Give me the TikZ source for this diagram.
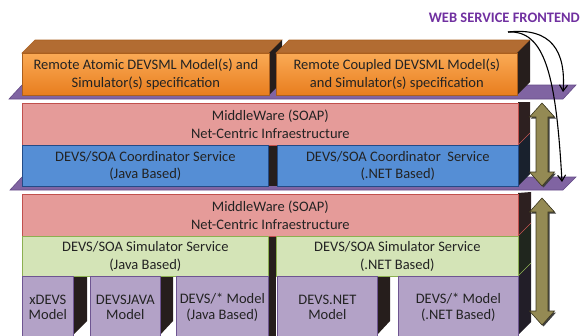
\documentclass[tikz,border=0pt]{standalone}
\usepackage{fontspec}
\setmainfont{Carlito}
\usetikzlibrary{arrows.meta,calc}
\definecolor{txt}{RGB}{35,35,35}
\definecolor{orgT}{RGB}{250,170,85}
\definecolor{orgBot}{RGB}{232,125,30}
\definecolor{orgB}{RGB}{170,95,30}
\definecolor{orgTop}{RGB}{178,108,50}
\definecolor{darkside}{RGB}{38,30,28}
\definecolor{slab}{RGB}{128,100,162}
\definecolor{slabB}{RGB}{100,75,135}
\definecolor{pinkF}{RGB}{229,155,153}
\definecolor{pinkB}{RGB}{192,80,77}
\definecolor{blueF}{RGB}{85,142,213}
\definecolor{blueB}{RGB}{35,75,135}
\definecolor{greenF}{RGB}{212,228,183}
\definecolor{greenB}{RGB}{140,175,80}
\definecolor{modF}{RGB}{179,162,199}
\definecolor{modB}{RGB}{110,85,145}
\definecolor{olive}{RGB}{148,138,84}
\definecolor{oliveB}{RGB}{60,55,30}
\definecolor{wsfc}{RGB}{112,48,160}
\definecolor{sideBrown}{RGB}{45,32,32}
\definecolor{sideNavy}{RGB}{25,33,45}
\definecolor{sideGreen}{RGB}{32,38,30}
\definecolor{sidePurp}{RGB}{34,30,40}
\newcommand\olivearrow[3]{%
  \fill[black!75] ($(#1,#2)+(1.5,1.5)$) -- ++(12.5,14) -- ++(-6.5,0) -- ($(#1+6,#3-14)+(1.5,1.5)$) -- ++(6.5,0) -- ++(-12.5,14) -- ++(-12.5,-14) -- ++(6.5,0) -- ($(#1-6,#2+14)+(1.5,1.5)$) -- ++(-6.5,0) -- cycle;
  \filldraw[fill=olive,draw=oliveB,line width=0.6pt] (#1,#2) -- ++(12.5,14) -- ++(-6.5,0) -- (#1+6,#3-14) -- ++(6.5,0) -- ++(-12.5,14) -- ++(-12.5,-14) -- ++(6.5,0) -- (#1-6,#2+14) -- ++(-6.5,0) -- cycle;}
\begin{document}
\begin{tikzpicture}[x=1pt,y=-1pt,
  lay/.style={inner sep=0pt, align=center, anchor=north west, line width=0.7pt,
    font=\fontsize{14.5}{17.5}\selectfont, text=txt},
  orangebox/.style={lay, draw=orgB, top color=orgT, bottom color=orgBot},
  pinkbox/.style={lay, draw=pinkB, fill=pinkF},
  bluebox/.style={lay, draw=blueB, fill=blueF},
  greenbox/.style={lay, draw=greenB, fill=greenF},
  modbox/.style={lay, draw=modB, fill=modF, font=\fontsize{14.5}{15.5}\selectfont},
  slabstyle/.style={fill=slab, draw=slabB, line width=0.6pt},
  wire/.style={line width=1.1pt, black, -{Straight Barb[length=6pt,width=8pt]}}
]
\useasboundingbox (0,0) rectangle (581,335);
% slab 1
\path[slabstyle] (9,99) -- (22,85) -- (576,85) -- (563,99) -- cycle;
% orange box 1 top and side
\path[fill=orgTop, draw=orgB, line width=0.6pt] (22,53) -- (35,40) -- (282,40) -- (269,53) -- cycle;
\path[fill=darkside] (269,53) -- (282,40) -- (282,82) -- (269,95) -- cycle;
% orange box 2 top and side
\path[fill=orgTop, draw=orgB, line width=0.6pt] (276,53) -- (289,40) -- (530,40) -- (517,53) -- cycle;
\path[fill=darkside] (517,53) -- (530,40) -- (530,82) -- (517,95) -- cycle;
\node[orangebox, minimum width=247pt, minimum height=42pt] (atomic) at (22,53)
  {Remote Atomic DEVSML Model(s) and\\Simulator(s) specification};
\node[orangebox, minimum width=241pt, minimum height=42pt] (coupled) at (276,53)
  {Remote Coupled DEVSML Model(s)\\and Simulator(s) specification};
% slab 2
\path[slabstyle] (10,190) -- (22,177) -- (576,177) -- (563,190) -- cycle;
% upper block right side
\path[fill=sideBrown] (518,102) -- (530,102) -- (530,133) -- (518,145) -- cycle;
\path[fill=sideNavy] (518,145) -- (530,133) -- (530,174) -- (518,186) -- cycle;
\draw[pinkB, line width=0.6pt] (518,145) -- (530,133);
\fill[darkside] (268,145) rectangle (277,186);
\node[pinkbox, minimum width=496pt, minimum height=42pt] (mw1) at (22,103)
  {MiddleWare (SOAP)\\Net-Centric Infraestructure};
\node[bluebox, minimum width=246pt, minimum height=41pt] (coordj) at (22,145)
  {DEVS/SOA Coordinator Service\\(Java Based)};
\node[bluebox, minimum width=241pt, minimum height=41pt] (coordn) at (277,145)
  {DEVS/SOA Coordinator\ \ Service\\(.NET Based)};
% lower block right side
\path[fill=sideBrown] (518,193) -- (531,192) -- (531,223) -- (518,236) -- cycle;
\path[fill=sideGreen] (518,236) -- (531,223) -- (531,263) -- (518,276) -- cycle;
\path[fill=sidePurp] (518,276) -- (531,263) -- (531,322) -- (518,335) -- cycle;
\draw[pinkB, line width=0.6pt] (518,236) -- (531,223);
\draw[greenB, line width=0.6pt] (518,276) -- (531,263);
\fill[darkside] (268,236) rectangle (276,336);
% model sides
\path[fill=darkside] (73,276) -- (87,276) -- (87,321) -- (73,335) -- cycle;
\path[fill=darkside] (160,276) -- (173,276) -- (173,321) -- (160,335) -- cycle;
\path[fill=darkside] (377,276) -- (390,276) -- (390,321) -- (377,335) -- cycle;
\node[pinkbox, minimum width=496pt, minimum height=42pt] (mw2) at (22,194)
  {MiddleWare (SOAP)\\Net-Centric Infraestructure};
\node[greenbox, minimum width=246pt, minimum height=40pt] (simj) at (22,236)
  {DEVS/SOA Simulator Service\\(Java Based)};
\node[greenbox, minimum width=242pt, minimum height=40pt] (simn) at (276,236)
  {DEVS/SOA Simulator Service\\(.NET Based)};
\node[modbox, minimum width=51pt, minimum height=62pt] (xdevs) at (22,276) {xDEVS\\Model};
\node[modbox, minimum width=70pt, minimum height=62pt] (devsjava) at (90,276) {DEVSJAVA\\Model};
\node[modbox, minimum width=92pt, minimum height=62pt] (starjava) at (176,276) {DEVS/* Model\\(Java Based)};
\node[modbox, minimum width=100pt, minimum height=62pt] (devsnet) at (277,276) {DEVS.NET\\Model};
\node[modbox, minimum width=120pt, minimum height=62pt] (starnet) at (398,276) {DEVS/* Model\\(.NET Based)};
% olive double arrows
\olivearrow{542}{103}{186}
\olivearrow{542}{198}{325}
% web service frontend
\node[anchor=base east, inner sep=0pt, text=wsfc, font=\fontsize{14.5}{16}\selectfont\bfseries] (wsf) at (580,22) {WEB SERVICE FRONTEND};
\coordinate (ws) at (508,32);
\coordinate (s1) at (563,92);
\coordinate (s2) at (562,182);
\draw[wire] (ws) .. controls (552,27) and (566,52) .. (s1);
\draw[wire] (ws) .. controls (545,30) and (556,75) .. (s2);
\end{tikzpicture}
\end{document}
